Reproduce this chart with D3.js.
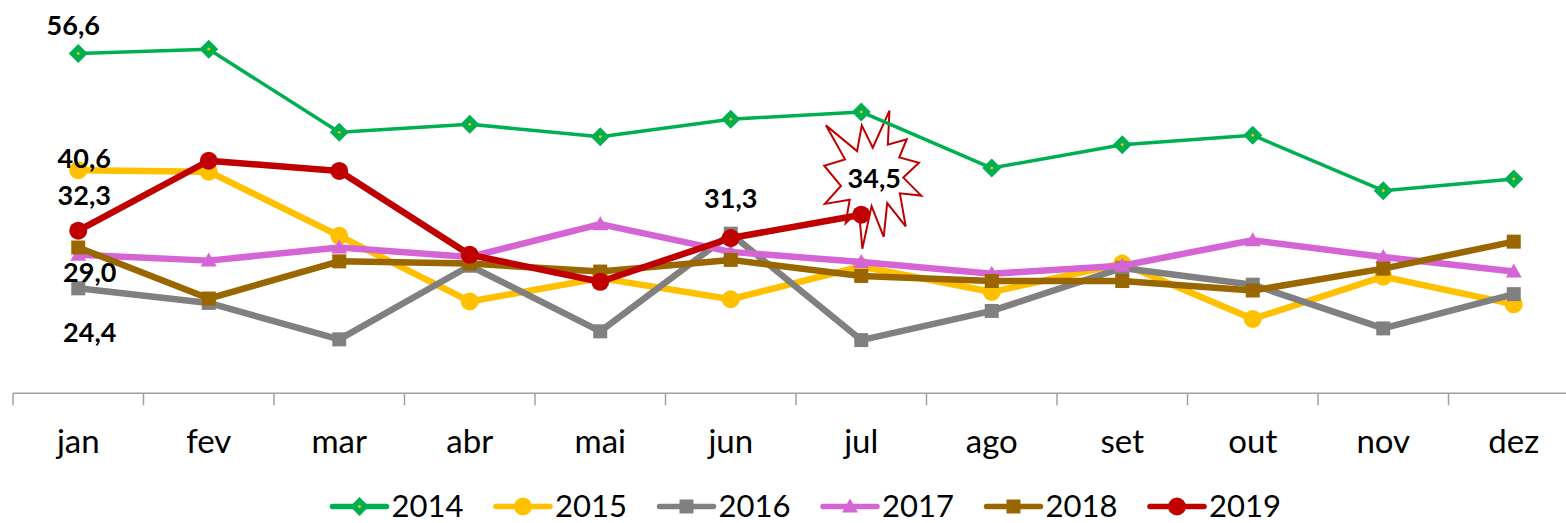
<!DOCTYPE html>
<html><head><meta charset="utf-8">
<script src="https://cdn.jsdelivr.net/npm/d3@7"></script>
<style>html,body{margin:0;padding:0;background:#fff;overflow:hidden}</style>
</head><body><svg id="c" width="1566" height="523"></svg>
<script>
const months = ["jan","fev","mar","abr","mai","jun","jul","ago","set","out","nov","dez"];
const years = ["2014","2015","2016","2017","2018","2019"];
const v2014 = [56.6,57.2,45.8,46.9,45.2,47.6,48.6,40.9,44.1,45.4,37.8,39.4];
const v2015 = [40.6,40.4,31.6,22.6,25.8,22.9,27.4,23.9,27.8,20.2,26.0,22.2];
const v2016 = [24.4,22.4,17.4,27.5,18.5,31.9,17.3,21.3,27.2,24.9,18.9,23.6];
const v2017 = [29.0,28.2,30.0,28.7,33.2,29.4,28.0,26.4,27.5,31.0,28.7,26.7];
const v2018 = [30.0,23.0,28.1,27.8,26.7,28.3,26.1,25.4,25.4,24.1,27.1,30.8];
const v2019 = [32.3,41.9,40.5,29.0,25.3,31.3,34.5];
const yDomain = [10, 60];
// labelled points: [year, month]
const labelled = [["2014","jan"],["2015","jan"],["2019","jan"],["2017","jan"],["2016","jan"],["2019","jun"],["2019","jul"]];

const seriesValues = {"2014":v2014,"2015":v2015,"2016":v2016,"2017":v2017,"2018":v2018,"2019":v2019};
const styles = {
  "2014":{color:"#00B050", w:3.5, marker:"diamond"},
  "2015":{color:"#FFC000", w:6.5, marker:"circle"},
  "2016":{color:"#808080", w:6.5, marker:"square"},
  "2017":{color:"#D565D5", w:6.5, marker:"triangle"},
  "2018":{color:"#996600", w:6.5, marker:"square"},
  "2019":{color:"#C00000", w:6.5, marker:"circle"}
};
// label offsets relative to data point (layout)
const labelOffsets = {
  "2014-jan":[-5,-19], "2015-jan":[6,-2], "2019-jan":[6,-26],
  "2017-jan":[11.5,27], "2016-jan":[11.5,54], "2019-jun":[0,-30], "2019-jul":[13,-27]
};

const svg = d3.select("#c");
const x = d3.scaleBand().domain(months).range([13, 1579]);
const y = d3.scaleLinear().domain(yDomain).range([393.3, 28.8]);
const cx = m => x(m) + x.bandwidth()/2;

// axis
const axisG = svg.append("g").attr("transform","translate(0,393.3)");
axisG.call(d3.axisBottom(x).tickSize(0).tickPadding(0))
  .call(g => g.select(".domain").remove());
axisG.selectAll(".tick text").attr("y", 59.5).attr("dy", null)
  .style("font-family","Lato, 'Open Sans', sans-serif").style("font-size","33px").attr("fill","#000");
axisG.append("line").attr("x1", 13).attr("x2", 1579).attr("y1",0).attr("y2",0)
  .attr("stroke","#A0A0A0").attr("stroke-width",1.5);
axisG.selectAll(".bt").data(months.concat(["__end"])).enter().append("line")
  .attr("x1", d => d==="__end" ? x.range()[1] : x(d))
  .attr("x2", d => d==="__end" ? x.range()[1] : x(d))
  .attr("y1",0).attr("y2",12).attr("stroke","#A0A0A0").attr("stroke-width",1.5);

// star annotation for jul 2019
const sealPts = [[10800,5800],[14522,0],[14155,5325],[18380,4457],[16702,7315],[21097,8137],[17607,10475],[21600,13290],[16837,12942],[18145,18095],[14020,14457],[13247,19737],[10532,14935],[8485,21600],[7715,15627],[4762,17617],[5667,13937],[135,14587],[3722,11775],[0,8615],[4627,7617],[370,2295],[7312,6320],[8352,2295]];
const sx = cx("jul") - 37, sy = y(v2019[6]) - 104, sw = 97, sh = 138;
svg.append("path")
  .attr("d", "M" + sealPts.map(p => [sx + p[0]/21600*sw, sy + p[1]/21600*sh].join(",")).join("L") + "Z")
  .attr("fill","#fff").attr("stroke","#C00000").attr("stroke-width",2);

function markerPath(type, px, py) {
  const p = d3.path();
  if (type === "diamond") { const s=9.5; p.moveTo(px,py-s); p.lineTo(px+s,py); p.lineTo(px,py+s); p.lineTo(px-s,py); p.closePath(); }
  else if (type === "square") { const s=7; p.rect(px-s,py-s,2*s,2*s); }
  else if (type === "triangle") { p.moveTo(px,py-8); p.lineTo(px+8,py+6); p.lineTo(px-8,py+6); p.closePath(); }
  else { p.moveTo(px+9,py); p.arc(px,py,9,0,2*Math.PI); }
  return p.toString();
}

const line = d3.line().x(d => cx(d.m)).y(d => y(d.v));
years.forEach(yr => {
  const st = styles[yr];
  const data = seriesValues[yr].map((v,i) => ({m: months[i], v}));
  const g = svg.append("g");
  g.append("path").attr("d", line(data)).attr("fill","none").attr("stroke", st.color)
    .attr("stroke-width", st.w).attr("stroke-linejoin","round").attr("stroke-linecap","round");
  g.selectAll("path.mk").data(data).enter().append("path").attr("class","mk")
    .attr("d", d => markerPath(st.marker, cx(d.m), y(d.v))).attr("fill", st.color);
  if (st.marker === "diamond") {
    g.selectAll("circle.dot").data(data).enter().append("circle")
      .attr("cx", d => cx(d.m)).attr("cy", d => y(d.v)).attr("r", 1.4).attr("fill","#FFC000");
  }
});

// data labels
const fmt = v => d3.format(".1f")(v).replace(".", ",");
labelled.forEach(([yr, m]) => {
  const v = seriesValues[yr][months.indexOf(m)];
  const off = labelOffsets[yr + "-" + m];
  svg.append("text").attr("x", cx(m) + off[0]).attr("y", y(v) + off[1])
    .attr("text-anchor","middle").style("font-family","Lato, 'Open Sans', sans-serif")
    .style("font-weight","bold").style("font-size","27px").attr("fill","#000").text(fmt(v));
});

// legend
const lg = svg.append("g");
years.forEach((yr, i) => {
  const st = styles[yr];
  const lx = 332.5 + i * 163.5, ly = 506.5;
  lg.append("line").attr("x1", lx).attr("x2", lx + 54).attr("y1", ly).attr("y2", ly)
    .attr("stroke", st.color).attr("stroke-width", 5.5).attr("stroke-linecap","round");
  lg.append("path").attr("d", markerPath(st.marker, lx + 27, ly)).attr("fill", st.color);
  if (st.marker === "diamond") lg.append("circle").attr("cx", lx+27).attr("cy", ly).attr("r",1.4).attr("fill","#FFC000");
  lg.append("text").attr("x", lx + 59).attr("y", 516.5).style("font-family","Lato, 'Open Sans', sans-serif")
    .style("font-size","31px").attr("fill","#000").text(yr);
});
</script></body></html>
